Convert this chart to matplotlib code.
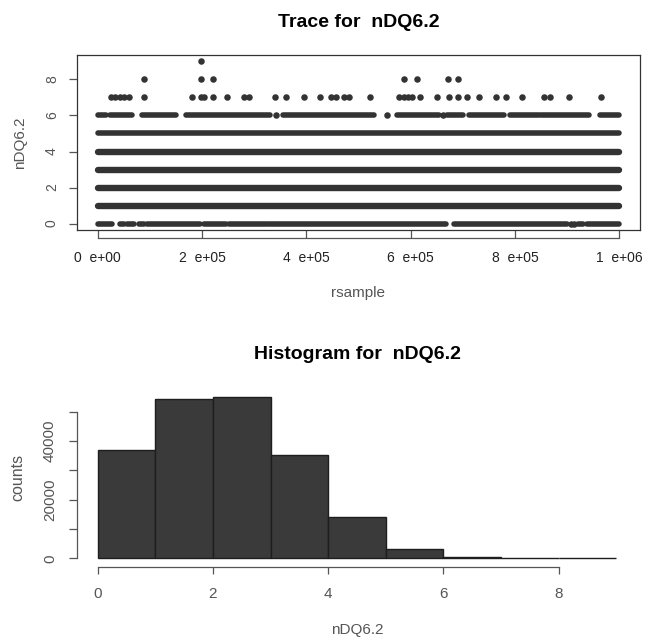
import matplotlib
matplotlib.use("Agg")
import matplotlib.pyplot as plt
import numpy as np

plt.rcParams['font.family'] = ['Liberation Sans', 'DejaVu Sans']

# ---------------- data ----------------
# Trace: dense runs of samples (rsample start, end) per value of nDQ6.2
full_levels = [1, 2, 3, 4, 5]
full_run = (0, 1000000)
runs_level0 = [(0, 28000), (42000, 50000), (56000, 70000), (78000, 88000),
               (95000, 195000), (203000, 245000), (252000, 322000),
               (327000, 668000), (683000, 900000), (922000, 930000),
               (938000, 1000000)]
runs_level6 = [(0, 15000), (23000, 66000), (85000, 150000), (170000, 331000),
               (355000, 530000), (574000, 654000), (670000, 700000),
               (712000, 780000), (790000, 846000), (850000, 942000),
               (964000, 1000000)]
single_level0 = [908000, 914000]
single_level6 = [342000, 555000, 662000]
points_level7 = [25000, 33000, 42000, 50000, 60000, 88000, 181000, 197000,
                 203000, 221000, 247000, 280000, 289000, 340000, 360000,
                 396000, 427000, 448000, 456000, 472000, 481000, 522000,
                 578000, 587000, 594000, 603000, 618000, 650000, 673000,
                 691000, 709000, 731000, 763000, 782000, 814000, 856000,
                 868000, 904000, 965000]
points_level8 = [88000, 198000, 221000, 588000, 613000, 671000, 690000]
points_level9 = [198000]

trace_xticks = [0, 200000, 400000, 600000, 800000, 1000000]
trace_xticklabels = ["0  e+00", "2  e+05", "4  e+05", "6  e+05", "8  e+05", "1  e+06"]
trace_yticks = [0, 2, 4, 6, 8]

# Histogram
bin_edges = [0, 1, 2, 3, 4, 5, 6, 7, 8, 9]
counts = [37000, 54300, 55200, 35200, 14200, 3200, 560, 60, 10]
hist_xticks = [0, 2, 4, 6, 8]
hist_yticks = [0, 10000, 20000, 30000, 40000, 50000]
hist_yticklabels = ["0", "", "20000", "", "40000", ""]

# ---------------- figure ----------------
W, H = 648, 640
fig = plt.figure(figsize=(W / 100, H / 100), dpi=100)


def rect(l, t, r, b):
    return [l / W, 1 - b / H, (r - l) / W, (b - t) / H]


grey = '#555555'
dark = '#333333'
px2pt = 0.72

# ---- Trace ----
ax1 = fig.add_axes(rect(77, 55, 640, 230))
for lev in full_levels:
    ax1.plot(full_run, [lev, lev], color=dark, lw=(4.0 if lev == 5 else 4.6),
             solid_capstyle='round')
for s, e in runs_level0:
    ax1.plot([s, e], [0, 0], color=dark, lw=4.0, solid_capstyle='round')
for s, e in runs_level6:
    ax1.plot([s, e], [6, 6], color=dark, lw=4.0, solid_capstyle='round')
ms = 22
ax1.scatter(single_level0, [0] * len(single_level0), s=ms, color=dark, lw=0)
ax1.scatter(single_level6, [6] * len(single_level6), s=ms, color=dark, lw=0)
ax1.scatter(points_level7, [7] * len(points_level7), s=ms, color=dark, lw=0)
ax1.scatter(points_level8, [8] * len(points_level8), s=ms, color=dark, lw=0)
ax1.scatter(points_level9, [9] * len(points_level9), s=ms, color=dark, lw=0)

ax1.set_xlim(-40000, 1040000)
ax1.set_ylim(-0.36, 9.36)
for sp in ax1.spines.values():
    sp.set_color(dark)
    sp.set_linewidth(0.9)
ax1.set_xticks(trace_xticks)
ax1.set_xticklabels(trace_xticklabels, fontsize=10, color='#222222', va='center')
ax1.set_yticks(trace_yticks)
ax1.set_yticklabels([str(v) for v in trace_yticks], rotation=90, ha='center',
                    va='center', fontsize=10, color=grey)
ax1.tick_params(axis='x', length=8 * px2pt, pad=20 * px2pt, color=grey, width=0.9)
ax1.tick_params(axis='y', length=8 * px2pt, pad=17 * px2pt, color=grey, width=0.9)
ax1.plot([trace_xticks[0], trace_xticks[-1]], [-8 / 175, -8 / 175],
         transform=ax1.get_xaxis_transform(), clip_on=False, color=grey, lw=0.9)
ax1.set_xlabel('rsample', fontsize=11, color=grey)
ax1.xaxis.set_label_coords(0.5, -0.36)
ax1.xaxis.label.set_va('center')
ax1.set_ylabel('nDQ6.2', fontsize=11, color=grey)
ax1.yaxis.set_label_coords(-0.101, 0.5)
ax1.yaxis.label.set_va('center')
ax1.set_title('Trace for  nDQ6.2', fontsize=14, fontweight='bold', y=1.183,
              va='center', pad=0)

# ---- Histogram ----
ax2 = fig.add_axes(rect(77, 390.1, 637, 566.7))
ax2.bar(bin_edges[:-1], counts, width=np.diff(bin_edges), align='edge',
        color='#3a3a3a', edgecolor='#1e1e1e', linewidth=1.0)
ax2.set_xlim(-0.36, 9.36)
ax2.set_ylim(-2870, 57400)
ax2.spines['top'].set_visible(False)
ax2.spines['right'].set_visible(False)
ax2.spines['left'].set_bounds(hist_yticks[0], hist_yticks[-1])
ax2.spines['bottom'].set_bounds(hist_xticks[0], hist_xticks[-1])
for k in ('left', 'bottom'):
    ax2.spines[k].set_color(grey)
    ax2.spines[k].set_linewidth(0.9)
ax2.set_xticks(hist_xticks)
ax2.set_xticklabels([str(v) for v in hist_xticks], fontsize=11, color=grey, va='center')
ax2.set_yticks(hist_yticks)
ax2.set_yticklabels(hist_yticklabels, rotation=90, ha='center', va='center',
                    fontsize=11, color=grey)
ax2.tick_params(axis='x', length=6.5 * px2pt, pad=21 * px2pt, color=grey, width=0.9)
ax2.tick_params(axis='y', length=8 * px2pt, pad=19 * px2pt, color=grey, width=0.9)
ax2.set_xlabel('nDQ6.2', fontsize=11, color=grey)
ax2.xaxis.set_label_coords(0.5, -0.358)
ax2.xaxis.label.set_va('center')
ax2.set_ylabel('counts', fontsize=11.5, color=grey)
ax2.yaxis.set_label_coords(-0.105, 0.508)
ax2.yaxis.label.set_va('center')
ax2.set_title('Histogram for  nDQ6.2', fontsize=14, fontweight='bold', y=1.199,
              va='center', pad=0)

fig.savefig('out.png', dpi=100)
